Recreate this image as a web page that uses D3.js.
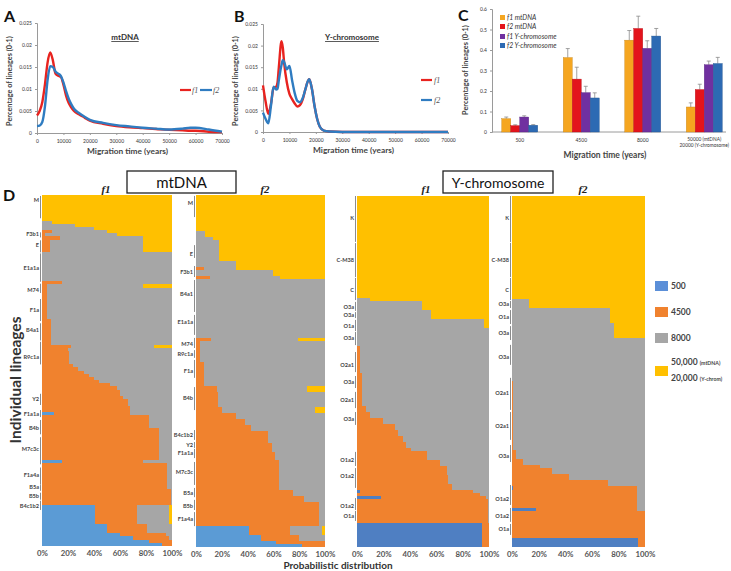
<!DOCTYPE html>
<html><head><meta charset="utf-8">
<script src="https://cdn.jsdelivr.net/npm/d3@7"></script>
<style>body{margin:0;background:#fff} svg{display:block}</style>
</head><body><svg id="c" width="731" height="571"></svg>
<script>
// ---------- DATA ----------
// Panel A (mtDNA) density curves
const mtYears = [0,1000,2000,3000,4000,5000,6000,7000,8000,9000,10000,11000,12000,13000,14000,16000,18000,20000,25000,30000,35000,40000,45000,50000,55000,58000,60000,65000,70000];
const mtF1 = [0.004,0.005,0.007,0.011,0.016,0.0183,0.0165,0.0135,0.013,0.0128,0.011,0.0085,0.0068,0.0058,0.005,0.0042,0.0035,0.0028,0.0021,0.0016,0.0013,0.0011,0.0009,0.0007,0.0006,0.0005,0.0005,0.0003,0.0002];
const mtF2 = [0.0016,0.0017,0.0025,0.006,0.012,0.0152,0.015,0.014,0.0135,0.013,0.0115,0.0095,0.0078,0.0065,0.0055,0.0045,0.0037,0.003,0.0023,0.0018,0.0015,0.0012,0.001,0.0008,0.001,0.0012,0.0012,0.0008,0.0003];
// Panel B (Y-chromosome) density curves
const yYears = [0,1000,2000,3000,4000,5000,5500,6000,7000,7500,8000,9000,10000,11000,12000,13000,14000,15000,16000,17000,17500,18500,19500,20500,21500,23000,25000,30000,40000,50000,60000,70000];
const yF1 = [0.0108,0.007,0.0042,0.0065,0.0102,0.0105,0.0115,0.015,0.021,0.0195,0.016,0.0115,0.0088,0.0076,0.0066,0.0059,0.0062,0.0075,0.0098,0.0118,0.0122,0.01,0.006,0.003,0.0012,0.0003,0.0001,0,0,0,0,0];
const yF2 = [0.0045,0.003,0.002,0.006,0.0105,0.0098,0.01,0.012,0.0155,0.0166,0.0162,0.0145,0.0153,0.012,0.009,0.0072,0.0069,0.0078,0.0098,0.0118,0.0122,0.01,0.006,0.003,0.0012,0.0003,0.0001,0,0,0,0,0];
const yTicksAB = [0,0.005,0.01,0.015,0.02,0.025];
const xTicksAB = [0,10000,20000,30000,40000,50000,60000,70000];

// Panel C bars
const cGroups = ["500","4500","8000","50000"];
const cSeries = ["f1 mtDNA","f2 mtDNA","f1 Y-chromosome","f2 Y-chromosome"];
const cF1mt = [0.065,0.363,0.448,0.122];
const cF2mt = [0.031,0.258,0.505,0.207];
const cF1Y  = [0.073,0.192,0.408,0.328];
const cF2Y  = [0.033,0.166,0.468,0.334];
const cF1mtErr = [0.008,0.044,0.047,0.02];
const cF2mtErr = [0.004,0.058,0.06,0.026];
const cF1YErr  = [0.006,0.031,0.037,0.018];
const cF2YErr  = [0.003,0.025,0.037,0.03];
const cTicks = [0,0.1,0.2,0.3,0.4,0.5,0.6];

// Panel D: rows = [number of lineages, %500, %4500, %8000, %50000/20000]
const mtF1Rows = [
 [8,0,0,0,100],[1,0,0,8,92],[1,0,0,25,75],[1,0,0,40,60],[1,0,8,42,50],[1,0,2,56,42],[1,0,14,64,22],[4,0,6,72,22],
 [9,0,0,100,0],[1,0,15,85,0],[1,0,4,74,22],[10,0,4,96,0],[8,0,7,93,0],[1,0,22,64,14],[1,0,20,80,0],
 [4,0,21,79,0],[1,0,24,76,0],[1,0,28,72,0],[1,0,32,68,0],[1,0,36,64,0],[1,0,40,60,0],[1,0,44,56,0],[1,0,52,48,0],
 [1,0,58,42,0],[2,0,60,40,0],[1,0,62,38,0],[2,0,66,34,0],[2,0,68,32,0],[1,9,59,32,0],[4,0,82,18,0],[10,0,90,10,0],
 [1,15,63,22,0],[8,0,96,4,0],[5,0,99,1,0],[6,41,32,25,2],[3,50,31,19,0],[1,60,35,5,0],[1,70,28,2,0],[1,82,18,0,0],[1,92,8,0,0]
];
const mtF2Rows = [
 [12,0,0,0,100],[2,0,0,7,93],[1,0,0,13,87],[7,0,0,18,82],[2,0,0,31,69],[1,0,6,25,69],[2,0,0,60,40],[1,0,11,54,35],
 [20,0,0,100,0],[1,0,12,67,21],[7,0,3,97,0],[8,0,6,94,0],[2,0,16,70,14],[5,0,17,83,0],[2,0,20,72,8],[2,0,31,69,0],
 [2,0,38,62,0],[2,0,43,57,0],[4,0,56,44,0],[3,0,59,41,0],[3,0,61,39,0],[10,0,64,36,0],[2,0,75,25,0],[2,0,84,16,0],
 [8,0,95,5,0],[3,41,32,25,2],[2,50,30,20,0],[1,62,38,0,0],[1,82,18,0,0]
];
const yF1Rows = [
 [34,0,0,0,100],[1,0,0,10,90],[3,0,0,49,51],[3,0,0,56,44],[3,0,0,96,4],[6,0,0,100,0],[9,0,2,98,0],[11,0,4,96,0],
 [2,0,7,93,0],[2,0,10,90,0],[2,0,20,80,0],[2,0,29,71,0],[2,0,31,69,0],[2,0,35,65,0],[2,0,37,63,0],[1,0,41,59,0],
 [3,0,53,47,0],[2,0,63,37,0],[3,0,68,32,0],[3,0,69,31,0],[2,0,72,28,0],[1,2,86,12,0],[1,0,93,7,0],[1,18,80,2,0],
 [8,0,99,1,0],[8,95,5,0,0]
];
const yF2Rows = [
 [34,0,0,0,100],[3,0,0,13,87],[5,0,0,74,26],[5,0,0,77,23],[14,0,0,100,0],[23,0,1,99,0],[3,0,3,97,0],[2,0,8,92,0],
 [1,0,21,79,0],[2,0,30,70,0],[2,0,43,57,0],[2,0,72,28,0],[1,1,93,6,0],[6,0,94,6,0],[1,18,76,6,0],[9,0,100,0,0],[3,95,5,0,0]
];
// lineage labels: [name, label position, bracket start, bracket end] in lineage units
const mtF1Labels = [["M",1.6,0.3,7.3],["F3b1",12.3,11.7,13.3],["E",15.8,14.2,18],["E1a1a",22.8,18.3,27.2],["M74",29.7,27.8,30.7],
 ["F1a",36,32.6,39.5],["B4a1",42.4,40.2,45.6],["R9c1a",50.9,46,53.1],["Y2",63.9,62.3,65.8],["F1a1a",68.6,67.4,69.6],
 ["B4b",73,70.5,75],["M7c3c",79.7,75.9,84.4],["F1a4a",87.6,85.4,90.8],["B5a",91.4,90.9,92.7],["B5b",94.3,93.3,95.5],["B4c1b2",97.4,95.8,98.7]];
const mtF2Labels = [["M",2.7,0.3,7.4],["E",19.8,16.8,21.1],["F3b1",25.8,23.8,27.5],["B4a1",33.2,28.5,39.2],["E1a1a",42.6,40.2,46.9],
 ["M74",50,47.9,51.3],["R9c1a",53.3,52,54.6],["F1a",59,55.3,61.3],["B4b",68,64.4,72.1],["B4c1b2",80.5,78.8,82.1],["Y2",83.8,82.8,84.8],
 ["F1a1a",86.5,85.1,88.2],["M7c3c",92.9,89.5,97.2],["B5a",99.9,98.2,101.3],["B5b",104.3,102.2,105.6],["F1a4a",108.6,106.3,111]];
const yF1Labels = [["K",7.3,0,15.3],["C-M38",21.3,15.7,27],["C",31.3,27.3,34.7],["O3a",37,35.3,38.3],["O3a",39.7,38.7,40.7],
 ["O1a",43.3,41.3,45],["O3a",47.3,45.3,49.7],["O2a1",56.3,52,58.7],["O3a",62,60,64],["O2a1",68,65.3,70.7],["O3a",74.3,72,76.3],
 ["O1a2",88,85.3,90],["O1a2",93.3,90.7,97.3],["O1a2",103.3,100.7,104.7],["O1a",106.7,105,108.3]];
const yF2Labels = [["K",7.3,0,15.2],["C-M38",21.2,15.5,26.8],["C",31.1,27.1,34.4],["O3a",35.7,34.7,37],["O1a",40,37.7,42.3],
 ["O3a",45.3,43,47.6],["O3a",53.2,49.2,55.8],["O2a1",65.1,60.1,70.7],["O2a1",76,71.4,80.6],["O3a",85.9,82.3,87.9],
 ["O1a2",100.1,95.5,102.1],["O1a2",105.7,103.1,107.7],["O1a",110,108.4,112]];
const pctTicks = [0,20,40,60,80,100];
const dLegend = ["500","4500","8000","50,000"];

// ---------- STYLES ----------
const FONT = "Lato, 'Open Sans', Arial, sans-serif";
const SERIF = "'Liberation Serif', 'DejaVu Serif', serif";
const RED = "#e8231f", BLUE = "#2f7cc1";
const barColors = ["#f5a620","#e3141c","#7030a0","#2d6ab3"];
const mtHeat = ["#5b9bd5","#f0822e","#a6a6a6","#ffc000"];
const yHeat = ["#4f7fc2","#f0822e","#a6a6a6","#ffc000"];
const legendHeat = ["#5b8fd8","#f0822e","#a6a6a6","#ffc000"];
const svg = d3.select("#c").attr("font-family", FONT);

function txt(x,y,s,size,opt={}){
  const t = svg.append("text").attr("x",x).attr("y",y).text(s).attr("font-size",size)
    .attr("fill",opt.fill||"#333").attr("font-weight",opt.w||"normal").attr("text-anchor",opt.anchor||"start");
  if(opt.style) t.attr("font-style",opt.style);
  if(opt.family) t.attr("font-family",opt.family);
  if(opt.rot) t.attr("transform",`rotate(${opt.rot},${x},${y})`);
  if(opt.deco) t.attr("text-decoration",opt.deco);
  return t;
}

// ---------- panel letters ----------
txt(4,22,"A",16,{w:"bold",fill:"#111"});
txt(234,22,"B",16,{w:"bold",fill:"#111"});
txt(458,21,"C",16,{w:"bold",fill:"#111"});
txt(3,201,"D",16,{w:"bold",fill:"#111"});

// ---------- line panels ----------
function linePanel(x0,x1,y0,y1,years,s1,s2,titleX,title,legend){
  const x = d3.scaleLinear().domain([0,70000]).range([x0,x1]);
  const y = d3.scaleLinear().domain([0,0.025]).range([y0,y1]);
  const g = svg.append("g");
  const ax = g.append("g").attr("transform",`translate(0,${y0})`)
    .call(d3.axisBottom(x).tickValues(xTicksAB).tickFormat(d3.format("d")).tickSize(2));
  const ay = g.append("g").attr("transform",`translate(${x0},0)`)
    .call(d3.axisLeft(y).tickValues(yTicksAB).tickFormat(d=>d===0?"0":d3.format("")(d)).tickSize(2));
  [ax,ay].forEach(a=>{a.selectAll("path,line").attr("stroke","#9a9a9a");
    a.selectAll("text").attr("font-size",5).attr("fill","#333").attr("font-family",FONT);});
  ax.selectAll("text").attr("dy","0.9em");
  const line = d3.line().x((d,i)=>x(years[i])).y(d=>y(d)).curve(d3.curveMonotoneX);
  g.append("path").datum(s1).attr("d",line).attr("fill","none").attr("stroke",RED).attr("stroke-width",2.4);
  g.append("path").datum(s2).attr("d",line).attr("fill","none").attr("stroke",BLUE).attr("stroke-width",2.4);
  txt(x0-25,(y0+y1)/2+3,"Percentage of lineages (0-1)",7.3,{w:"bold",anchor:"middle",rot:-90,fill:"#444"});
  txt((x0+x1)/2-2,y0+21,"Migration time (years)",8.3,{w:"bold",anchor:"middle",fill:"#444"});
  txt(titleX,40,title,8,{w:"bold",anchor:"middle",deco:"underline",fill:"#333"});
  legend(g);
}
linePanel(37,222,133,23,mtYears,mtF1,mtF2,125,"mtDNA",g=>{
  g.append("line").attr("x1",180).attr("x2",191).attr("y1",90).attr("y2",90).attr("stroke",RED).attr("stroke-width",2.2);
  txt(192,93,"f1",8,{style:"italic",family:SERIF,fill:"#555"});
  g.append("line").attr("x1",200).attr("x2",212).attr("y1",90).attr("y2",90).attr("stroke",BLUE).attr("stroke-width",2.2);
  txt(213,93,"f2",8,{style:"italic",family:SERIF,fill:"#555"});
});
linePanel(263,448,132,24,yYears,yF1,yF2,352,"Y-chromosome",g=>{
  g.append("line").attr("x1",421).attr("x2",432).attr("y1",80).attr("y2",80).attr("stroke",RED).attr("stroke-width",2.2);
  txt(434,83,"f1",8,{style:"italic",family:SERIF,fill:"#555"});
  g.append("line").attr("x1",421).attr("x2",432).attr("y1",100).attr("y2",100).attr("stroke",BLUE).attr("stroke-width",2.2);
  txt(434,103,"f2",8,{style:"italic",family:SERIF,fill:"#555"});
});

// ---------- panel C ----------
(function(){
  const x = d3.scaleBand().domain(cGroups).range([489,735]).paddingInner(0.415).paddingOuter(0.2075);
  const xs = d3.scaleBand().domain(cSeries).range([0,x.bandwidth()]);
  const y = d3.scaleLinear().domain([0,0.6]).range([132,9]);
  const vals = [cF1mt,cF2mt,cF1Y,cF2Y], errs = [cF1mtErr,cF2mtErr,cF1YErr,cF2YErr];
  const g = svg.append("g");
  const ay = g.append("g").attr("transform","translate(492,0)").call(d3.axisLeft(y).tickValues(cTicks).tickFormat(d=>d===0?"0":d3.format("")(d)).tickSize(2));
  ay.selectAll("path,line").attr("stroke","#9a9a9a");
  ay.selectAll("text").attr("font-size",5).attr("fill","#333").attr("font-family",FONT);
  g.append("line").attr("x1",492).attr("x2",726).attr("y1",132).attr("y2",132).attr("stroke","#9a9a9a");
  cSeries.forEach((s,si)=>{
    cGroups.forEach((grp,gi)=>{
      const bx = x(grp)+xs(s), bw = xs.bandwidth(), v = vals[si][gi], e = errs[si][gi];
      const cx = bx+bw/2;
      g.append("line").attr("x1",cx).attr("x2",cx).attr("y1",y(v)).attr("y2",y(v+e)).attr("stroke","#8a8a8a").attr("stroke-width",0.8);
      g.append("line").attr("x1",cx-2).attr("x2",cx+2).attr("y1",y(v+e)).attr("y2",y(v+e)).attr("stroke","#8a8a8a").attr("stroke-width",0.8);
      g.append("rect").attr("x",bx).attr("y",y(v)).attr("width",bw).attr("height",y(0)-y(v))
        .attr("fill",barColors[si]).attr("stroke",d3.color(barColors[si]).darker(0.6)).attr("stroke-width",0.4);
    });
  });
  cGroups.forEach((grp,gi)=>{
    const cx = x(grp)+x.bandwidth()/2;
    if(gi<3) txt(cx,142,grp,5,{anchor:"middle"});
    else { txt(cx,141,"50000 (mtDNA)",4.8,{anchor:"middle"}); txt(cx,147,"20000 (Y-chromosome)",4.8,{anchor:"middle"}); }
  });
  txt(468,70,"Percentage of lineages (0-1)",7.3,{w:"bold",anchor:"middle",rot:-90,fill:"#444"});
  txt(605,158,"Migration time (years)",8.5,{w:"bold",anchor:"middle",fill:"#444"});
  const ly = [15,24,34,43];
  cSeries.forEach((s,i)=>{
    g.append("rect").attr("x",500).attr("y",ly[i]).attr("width",5).attr("height",5).attr("fill",barColors[i]);
    txt(507,ly[i]+4.8,s,6.8,{style:"italic",fill:"#333"});
  });
})();

// ---------- panel D ----------
function drawHeat(rows,labels,x0,x1,y0,y1,cols){
  const total = d3.sum(rows,r=>r[0]);
  const y = d3.scaleLinear().domain([0,total]).range([y0,y1]);
  const x = d3.scaleLinear().domain([0,1]).range([x0,x1]);
  const g = svg.append("g");
  let acc = 0; const cells = [];
  rows.forEach(r=>{
    const s = r[1]+r[2]+r[3]+r[4]; let c = 0;
    for(let k=0;k<4;k++){ const v=r[k+1]/s; if(v>0) cells.push({i0:acc,i1:acc+r[0],c0:c,c1:c+v,k}); c+=v; }
    acc += r[0];
  });
  g.selectAll("rect").data(cells).join("rect")
    .attr("x",d=>x(d.c0)).attr("width",d=>x(d.c1)-x(d.c0))
    .attr("y",d=>y(d.i0)).attr("height",d=>y(d.i1)-y(d.i0))
    .attr("fill",d=>cols[d.k]).attr("shape-rendering","crispEdges");
  labels.forEach(l=>{
    g.append("line").attr("x1",x0-1.5).attr("x2",x0-1.5).attr("y1",y(l[2])).attr("y2",y(l[3])).attr("stroke","#8c8c8c").attr("stroke-width",1);
    txt(x0-3,y(l[1])+2,l[0],5.6,{anchor:"end",w:"bold",fill:"#444"});
  });
  const xp = d3.scaleLinear().domain([0,100]).range([x0,x1]);
  const ax = g.append("g").attr("transform",`translate(0,${y1})`).call(d3.axisBottom(xp).tickValues(pctTicks).tickFormat(d=>d+"%").tickSize(0).tickPadding(2));
  ax.select(".domain").remove();
  ax.selectAll("text").attr("font-size",7.8).attr("font-weight","bold").attr("fill","#555").attr("font-family",FONT).attr("dy","1.0em");
}
drawHeat(mtF1Rows,mtF1Labels,42,172,195,546,mtHeat);
drawHeat(mtF2Rows,mtF2Labels,196,325,195,547,mtHeat);
drawHeat(yF1Rows,yF1Labels,357,489,196,547,yHeat);
drawHeat(yF2Rows,yF2Labels,512,645,196,547,yHeat);

// headers
svg.append("rect").attr("x",127).attr("y",171).attr("width",109).attr("height",22).attr("fill","#fff").attr("stroke","#222").attr("stroke-width",1.3);
txt(181.5,188,"mtDNA",15,{anchor:"middle",fill:"#111"});
svg.append("rect").attr("x",443).attr("y",171).attr("width",110).attr("height",22).attr("fill","#fff").attr("stroke","#222").attr("stroke-width",1.3);
txt(498,187.5,"Y-chromosome",14,{anchor:"middle",fill:"#111"});
[[106,"f1"],[265,"f2"],[426,"f1"],[583,"f2"]].forEach(d=>txt(d[0],193,d[1],11,{anchor:"middle",style:"italic",w:"bold",family:SERIF,fill:"#222"}));

txt(21,380,"Individual lineages",15.5,{anchor:"middle",w:"bold",rot:-90,fill:"#333"});
txt(338,568.5,"Probabilistic distribution",10,{anchor:"middle",w:"bold",fill:"#333"});

// D legend
const legY = [281,307,333,366];
dLegend.forEach((s,i)=>{
  svg.append("rect").attr("x",655).attr("y",legY[i]).attr("width",13).attr("height",10).attr("fill",legendHeat[i]);
});
txt(671,289,"500",8.5,{w:"bold",fill:"#444"});
txt(671,315,"4500",8.5,{w:"bold",fill:"#444"});
txt(671,341,"8000",8.5,{w:"bold",fill:"#444"});
const t1 = txt(671,365,"50,000 ",8.5,{w:"bold",fill:"#444"});
t1.append("tspan").attr("font-size",5.2).text("(mtDNA)");
const t2 = txt(671,381,"20,000 ",8.5,{w:"bold",fill:"#444"});
t2.append("tspan").attr("font-size",5.2).text("(Y-chrom)");
</script></body></html>
